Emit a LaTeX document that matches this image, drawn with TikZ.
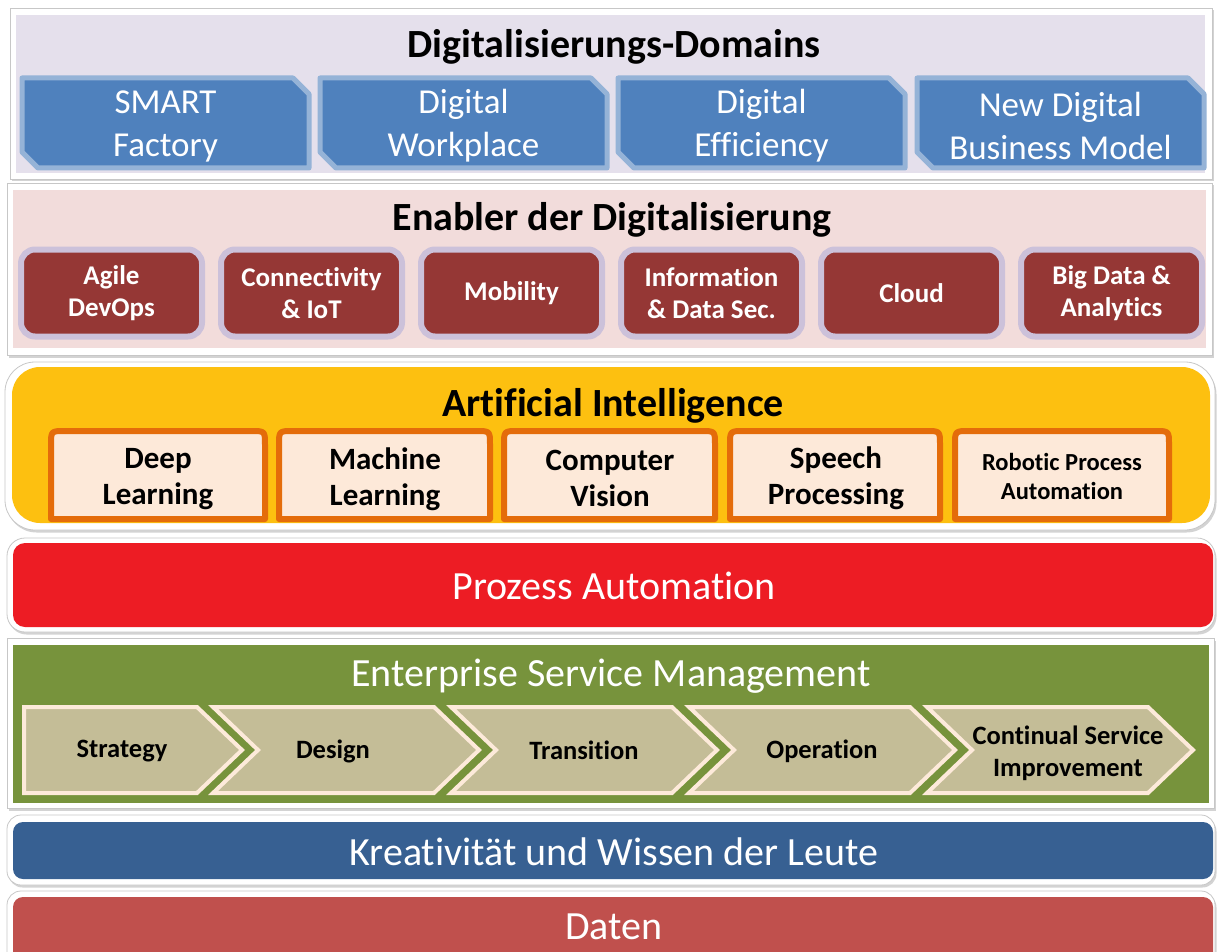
\documentclass[tikz,border=0pt]{standalone}
\usepackage{fontspec}
\setmainfont{Carlito}[Ligatures={NoCommon,NoContextual,NoRequired}, Contextuals={NoAlternate}]
\usetikzlibrary{shadows}
\definecolor{lavbg}{HTML}{E5E0EC}
\definecolor{domfill}{HTML}{4F81BD}
\definecolor{domline}{HTML}{95B3D7}
\definecolor{pinkbg}{HTML}{F2DCDB}
\definecolor{enfill}{HTML}{953735}
\definecolor{enline}{HTML}{CCC1DA}
\definecolor{aiyellow}{HTML}{FDC010}
\definecolor{aifill}{HTML}{FDE9D9}
\definecolor{ailine}{HTML}{E46C0A}
\definecolor{procred}{HTML}{ED1C24}
\definecolor{esmgreen}{HTML}{77933C}
\definecolor{chevfill}{HTML}{C4BD97}
\definecolor{chevline}{HTML}{FDEADA}
\definecolor{kreablue}{HTML}{376092}
\definecolor{datenred}{HTML}{C0504D}
\begin{document}
\begin{tikzpicture}[x=1pt,y=-1pt,
  frame/.style={fill=white, draw=black!22, line width=0.8pt,
    drop shadow={opacity=0.35, shadow xshift=1.5pt, shadow yshift=-2.5pt}},
  bandtitle/.style={font=\bfseries\fontsize{40}{46}\selectfont, text=black},
  bandlabel/.style={font=\fontsize{40}{46}\selectfont, text=white},
  dombox/.style={fill=domfill, draw=domline, line width=5pt, line join=round,
    drop shadow={opacity=0.3, shadow xshift=1pt, shadow yshift=-2pt}},
  domtxt/.style={text=white, align=center, font=\fontsize{35}{43}\selectfont},
  enbox/.style={rectangle, rounded corners=14pt, fill=enfill, draw=enline, line width=6pt,
    text=white, align=center, font=\bfseries\fontsize{27}{32}\selectfont,
    minimum width=181pt, minimum height=87pt, inner sep=0pt,
    drop shadow={opacity=0.3, shadow xshift=1pt, shadow yshift=-2pt}},
  aibox/.style={fill=aifill, draw=ailine, line width=6pt, line join=round,
    drop shadow={opacity=0.3, shadow xshift=1pt, shadow yshift=-2pt}},
  aitxt/.style={text=black, align=center, font=\bfseries\fontsize{31}{36}\selectfont},
  aismall/.style={text=black, align=center, font=\bfseries\fontsize{24.5}{29}\selectfont},
  chev/.style={fill=chevfill, draw=chevline, line width=4pt, line join=miter},
  chevtxt/.style={text=black, align=center, font=\bfseries\fontsize{26.5}{32}\selectfont}
]
\useasboundingbox (0,0) rectangle (1217,952);

% ---------- Band 1: Digitalisierungs-Domains
\draw[frame] (10,8) rectangle (1212,179);
\fill[lavbg] (16,15) rectangle (1205,173);
\node[bandtitle] (t1) at (614,47) {Digitalisierungs-Domains};
\foreach \i/\xa/\txt in {1/22/{SMART\\Factory}, 2/320/{Digital\\Workplace}, 3/618/{Digital\\Efficiency}, 4/917/{New Digital\\Business Model}}{
  \pgfmathsetmacro{\xb}{\xa+287}
  \draw[dombox] (\xa,78) -- (\xb-16,78) -- (\xb,94) -- (\xb,168) -- (\xa+16,168) -- (\xa,152) -- cycle;
  \node[domtxt] (d\i) at ({(\xa+\xb)/2},126) {\txt};
}

% ---------- Band 2: Enabler
\draw[frame] (7,183) rectangle (1212,355);
\fill[pinkbg] (13,190) rectangle (1206,348);
\node[bandtitle] (t2) at (612,220) {Enabler der Digitalisierung};
\node[enbox] (e1) at (111.5,293) {Agile\\DevOps};
\node[enbox] (e2) at (311.5,293) {Connectivity\\\& IoT};
\node[enbox] (e3) at (511.5,293) {Mobility};
\node[enbox] (e4) at (711.5,293) {Information\\\& Data Sec.};
\node[enbox] (e5) at (911.5,293) {Cloud};
\node[enbox] (e6) at (1111.5,293) {Big Data \&\\Analytics};

% ---------- Band 3: Artificial Intelligence
\draw[frame, rounded corners=30pt] (5,362) rectangle (1215,530);
\fill[aiyellow, rounded corners=28pt] (12,367) rectangle (1210,523);
\node[bandtitle] (t3) at (613,406) {Artificial Intelligence};
\foreach \i/\xa/\xb in {1/51/265, 2/279/490, 3/504/715, 4/730/940, 5/955/1169}{
  \draw[aibox] (\xa,519) -- (\xa,445) .. controls (\xa,431) .. (\xa+14,431)
     -- (\xb-14,431) .. controls (\xb,431) .. (\xb,445) -- (\xb,519) -- cycle;
}
\node[aitxt] (a1) at (158,479) {Deep\\Learning};
\node[aitxt] (a2) at (385,479) {Machine\\Learning};
\node[aitxt] (a3) at (610,478) {Computer\\Vision};
\node[aitxt] (a4) at (836,478) {Speech\\Processing};
\node[aismall] (a5) at (1062,476) {Robotic Process\\Automation};

% ---------- Band 4: Prozess Automation
\draw[frame, rounded corners=18pt] (7,538) rectangle (1215,632);
\fill[procred, rounded corners=12pt] (13,543) rectangle (1213,627);
\node[bandlabel] (t4) at (614,586) {Prozess Automation};

% ---------- Band 5: Enterprise Service Management
\draw[frame] (7,638) rectangle (1214,808);
\fill[esmgreen] (13,645) rectangle (1209,803);
\node[bandlabel] (t5) at (611,676) {Enterprise Service Management};
\draw[chev] (24,707) -- (197,707) -- (242,750) -- (197,793) -- (24,793) -- cycle;
\foreach \i/\xa in {2/213, 3/451, 4/689, 5/927}{
  \draw[chev] (\xa,707) -- (\xa+221,707) -- (\xa+266,750) -- (\xa+221,793) -- (\xa,793) -- (\xa+45,750) -- cycle;
}
\node[chevtxt] (c1) at (122,751) {Strategy};
\node[chevtxt] (c2) at (333,751) {Design};
\node[chevtxt] (c3) at (584,750) {Transition};
\node[chevtxt] (c4) at (822,751) {Operation};
\node[chevtxt] (c5) at (1068,753) {Continual Service\\Improvement};

% ---------- Band 6: Kreativitaet
\draw[frame, rounded corners=14pt] (7,815) rectangle (1215,885);
\fill[kreablue, rounded corners=10pt] (13,822) rectangle (1213,879);
\node[bandlabel] (t6) at (614,852) {Kreativität und Wissen der Leute};

% ---------- Band 7: Daten
\draw[frame, rounded corners=14pt] (7,891) rectangle (1215,975);
\fill[datenred, rounded corners=10pt] (13,897) rectangle (1213,970);
\node[bandlabel] (t7) at (614,927) {Daten};
\end{tikzpicture}
\end{document}
